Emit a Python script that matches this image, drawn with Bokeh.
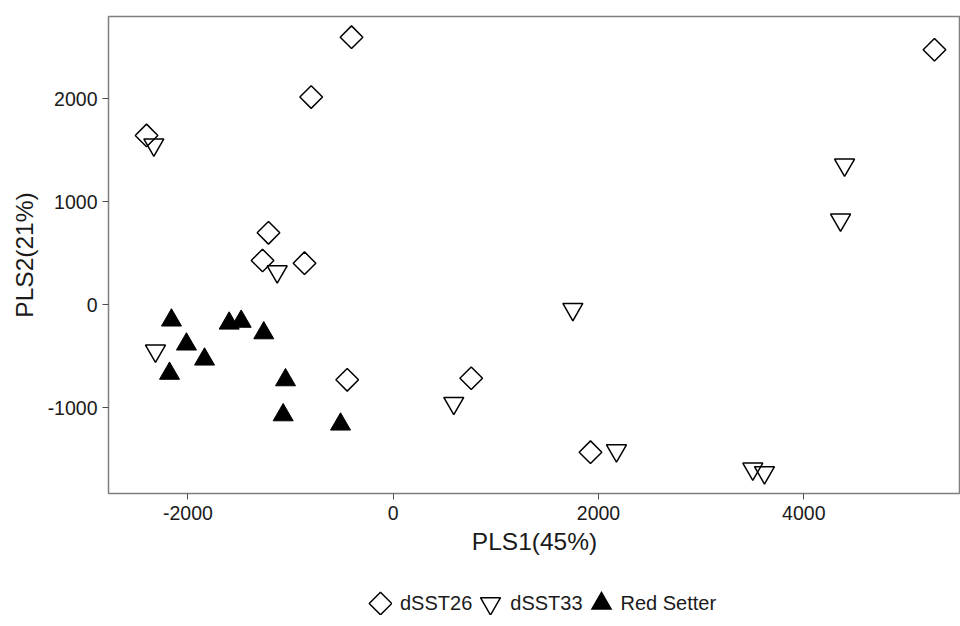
import numpy as np
from bokeh.plotting import figure
from bokeh.layouts import column
from bokeh.models import Range1d, FixedTicker, Legend, LegendItem, CustomJS
from bokeh.embed import file_html
from bokeh.resources import INLINE

# ---- data ----
dsst26_x = [-2403, -406, -799, -1215, -1273, -864, -448, 760, 1922, 5273]
dsst26_y = [1644, 2598, 2017, 699, 430, 404, -728, -713, -1431, 2476]
dsst33_x = [-2332, -1130, -2316, 1750, 590, 2175, 3503, 3617, 4397, 4358]
dsst33_y = [1554, 323, -447, -43, -955, -1415, -1592, -1628, 1359, 825]
red_x = [-2160, -2014, -1838, -2179, -1598, -1481, -1261, -1049, -1072, -513]
red_y = [-150, -383, -529, -667, -180, -162, -274, -730, -1070, -1160]
x_ticks = [-2000, 0, 2000, 4000]
y_ticks = [-1000, 0, 1000, 2000]
series_names = ["dSST26", "dSST33", "Red Setter"]
x_title = "PLS1(45%)"
y_title = "PLS2(21%)"

FONT = "Liberation Sans"
TXT = "#1a1a1a"

p = figure(width=960, height=560, output_backend="svg", toolbar_location=None,
           x_range=Range1d(-2773.5, 5526.5), y_range=Range1d(-1832, 2799),
           min_border_left=108, min_border_right=0, min_border_top=16,
           min_border_bottom=67)
p.grid.visible = False
p.outline_line_color = "#7f7f7f"
p.outline_line_width = 1.5
p.background_fill_color = "white"
p.border_fill_color = "white"

p.xaxis.ticker = FixedTicker(ticks=x_ticks)
p.yaxis.ticker = FixedTicker(ticks=y_ticks)
p.xaxis.major_label_overrides = {t: str(t) for t in x_ticks}
p.yaxis.major_label_overrides = {t: str(t) for t in y_ticks}
p.xaxis.axis_label = x_title
p.yaxis.axis_label = y_title
for ax in (p.xaxis[0], p.yaxis[0]):
    ax.axis_line_color = None
    ax.major_tick_line_color = "#4d4d4d"
    ax.major_tick_line_width = 1
    ax.major_tick_out = 6
    ax.major_tick_in = 0
    ax.minor_tick_line_color = None
    ax.major_label_text_font = FONT
    ax.major_label_text_font_size = "19.5px"
    ax.major_label_text_color = TXT
    ax.axis_label_text_font = FONT
    ax.axis_label_text_font_size = "24.5px"
    ax.axis_label_text_font_style = "normal"
    ax.axis_label_text_color = TXT
p.xaxis[0].major_label_standoff = 6
p.xaxis[0].axis_label_standoff = 5
p.yaxis[0].major_label_standoff = 5
p.yaxis[0].axis_label_standoff = 7

r26 = p.scatter(dsst26_x, dsst26_y, marker="square", angle=np.pi / 4, size=16,
                fill_alpha=0, line_color="black", line_width=1.5)
r33 = p.scatter(dsst33_x, dsst33_y, marker="inverted_triangle", size=20,
                fill_alpha=0, line_color="black", line_width=1.5)
rrs = p.scatter(red_x, red_y, marker="triangle", size=20,
                fill_color="black", line_color="black", line_width=1)

# ---- legend strip below the plot (its frame is aligned with the plot's) ----
pl = figure(width=960, height=66, output_backend="svg", toolbar_location=None,
            x_range=Range1d(0, 1), y_range=Range1d(0, 1),
            x_axis_location=None, y_axis_location=None,
            min_border_left=0, min_border_right=0, min_border_top=0,
            min_border_bottom=0)
pl.grid.visible = False
pl.outline_line_color = None
pl.border_fill_color = "white"

# custom legend-key shapes, traced on the context (which is then stroked),
# scaled by k so that the keys match the plot's marks
SHAPE_JS = """
const d = (typeof cb_data !== "undefined" && cb_data != null) ? cb_data : {};
const r0 = d.r != null ? d.r : (d.size != null ? d.size / 2 : 5);
const r = r0 * k;
let pts;
if (shape == "diamond") {
  pts = [[0, -r], [r, 0], [0, r], [-r, 0]];
} else {
  const h = r * Math.sqrt(3);
  const a = h / 3;
  pts = shape == "up" ? [[-r, a], [r, a], [0, a - h]] : [[-r, -a], [r, -a], [0, h - a]];
}
const c = d.ctx;
if (c != null && c.moveTo != null) {
  c.beginPath();
  c.moveTo(pts[0][0], pts[0][1]);
  for (let j = 1; j < pts.length; j++) c.lineTo(pts[j][0], pts[j][1]);
  c.closePath();
}
const path = new Path2D();
path.moveTo(pts[0][0], pts[0][1]);
for (let j = 1; j < pts.length; j++) path.lineTo(pts[j][0], pts[j][1]);
path.closePath();
return path;
"""
BOX = 24
r_leg = 0.4 * BOX / 2
open_key = dict(fill_alpha=0, line_color="black", line_width=1.5, visible=False)
k26 = pl.scatter(dsst26_x, dsst26_y, marker="@d26", size=16,
                 defs={"@d26": CustomJS(args=dict(k=8 * np.sqrt(2) / r_leg, shape="diamond"),
                                        code=SHAPE_JS)}, **open_key)
k33 = pl.scatter(dsst33_x, dsst33_y, marker="@d33", size=20,
                 defs={"@d33": CustomJS(args=dict(k=10 / r_leg, shape="down"),
                                        code=SHAPE_JS)}, **open_key)
# solid key: a small triangle stroked with a wide mitred line fills completely
inr = 6.27 / 2                      # inner triangle's inradius
solid_half_side = np.sqrt(3) * inr  # half of its side
krs = pl.scatter(red_x, red_y, marker="@rs", size=20,
                 defs={"@rs": CustomJS(args=dict(k=solid_half_side / r_leg, shape="up"),
                                       code=SHAPE_JS)},
                 fill_alpha=0, line_color="black", line_width=2 * inr,
                 line_join="miter", visible=False)

legend = Legend(items=[LegendItem(label=series_names[0], renderers=[k26]),
                       LegendItem(label=series_names[1], renderers=[k33]),
                       LegendItem(label=series_names[2], renderers=[krs])],
                location=(260, 11), orientation="horizontal",
                glyph_width=BOX, glyph_height=BOX, label_standoff=8, spacing=6,
                padding=0, margin=0, border_line_color=None,
                background_fill_alpha=0, label_text_font=FONT,
                label_text_font_size="20px", label_text_color=TXT,
                label_height=20)
pl.add_layout(legend)

open("out.html", "w").write(file_html(column(p, pl, spacing=0), INLINE))
